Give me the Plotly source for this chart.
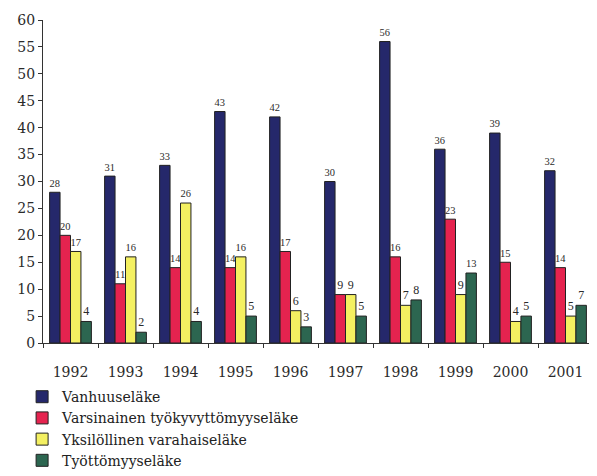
import plotly.graph_objects as go

years = ["1992", "1993", "1994", "1995", "1996", "1997", "1998", "1999", "2000", "2001"]
vanhuus = [28, 31, 33, 43, 42, 30, 56, 36, 39, 32]
varsinainen = [20, 11, 14, 14, 17, 9, 16, 23, 15, 14]
yksilollinen = [17, 16, 26, 16, 6, 9, 7, 9, 4, 5]
tyottomyys = [4, 2, 4, 5, 3, 5, 8, 13, 5, 7]

series = [
    ("Vanhuuseläke", vanhuus, "#25286b"),
    ("Varsinainen työkyvyttömyyseläke", varsinainen, "#e5234f"),
    ("Yksilöllinen varahaiseläke", yksilollinen, "#f4f061"),
    ("Työttömyyseläke", tyottomyys, "#2c6650"),
]

fig = go.Figure()
for name, vals, color in series:
    fig.add_trace(go.Bar(
        x=years, y=vals, name=name,
        marker=dict(color=color, line=dict(color="#222222", width=1)),
        text=vals, textposition="outside", cliponaxis=False,
        textfont=dict(family="Liberation Serif", size=12, color="#2a2a2a"),
    ))

# page body has an 8px margin, so the figure is offset; extra height keeps the legend
# from pushing the bottom margin
fig.update_layout(
    width=589, height=490,
    margin=dict(l=35, r=4, t=12, b=155),
    barmode="group", bargap=0.24, bargroupgap=0,
    plot_bgcolor="white", paper_bgcolor="white",
    font=dict(family="DejaVu Serif", color="#333333"),
    legend=dict(
        orientation="v", x=-0.038, y=-0.118, xanchor="left", yanchor="top",
        font=dict(family="DejaVu Serif", size=14, color="#222222"),
        itemwidth=30, tracegroupgap=0, bgcolor="rgba(0,0,0,0)",
    ),
    showlegend=True,
)
fig.update_xaxes(
    showline=True, linecolor="#333333", linewidth=1,
    ticks="outside", tickson="boundaries", ticklen=4, tickcolor="#333333",
    ticklabelstandoff=16,
    tickfont=dict(family="DejaVu Serif", size=14, color="#2a2a2a"),
    showgrid=False,
)
fig.update_yaxes(
    range=[0, 60], dtick=5, showline=True, linecolor="#333333", linewidth=1,
    ticks="outside", ticklen=4, tickcolor="#333333", showgrid=False, zeroline=False,
    tickfont=dict(family="DejaVu Serif", size=14, color="#2a2a2a"),
)

fig.write_html("out.html")
